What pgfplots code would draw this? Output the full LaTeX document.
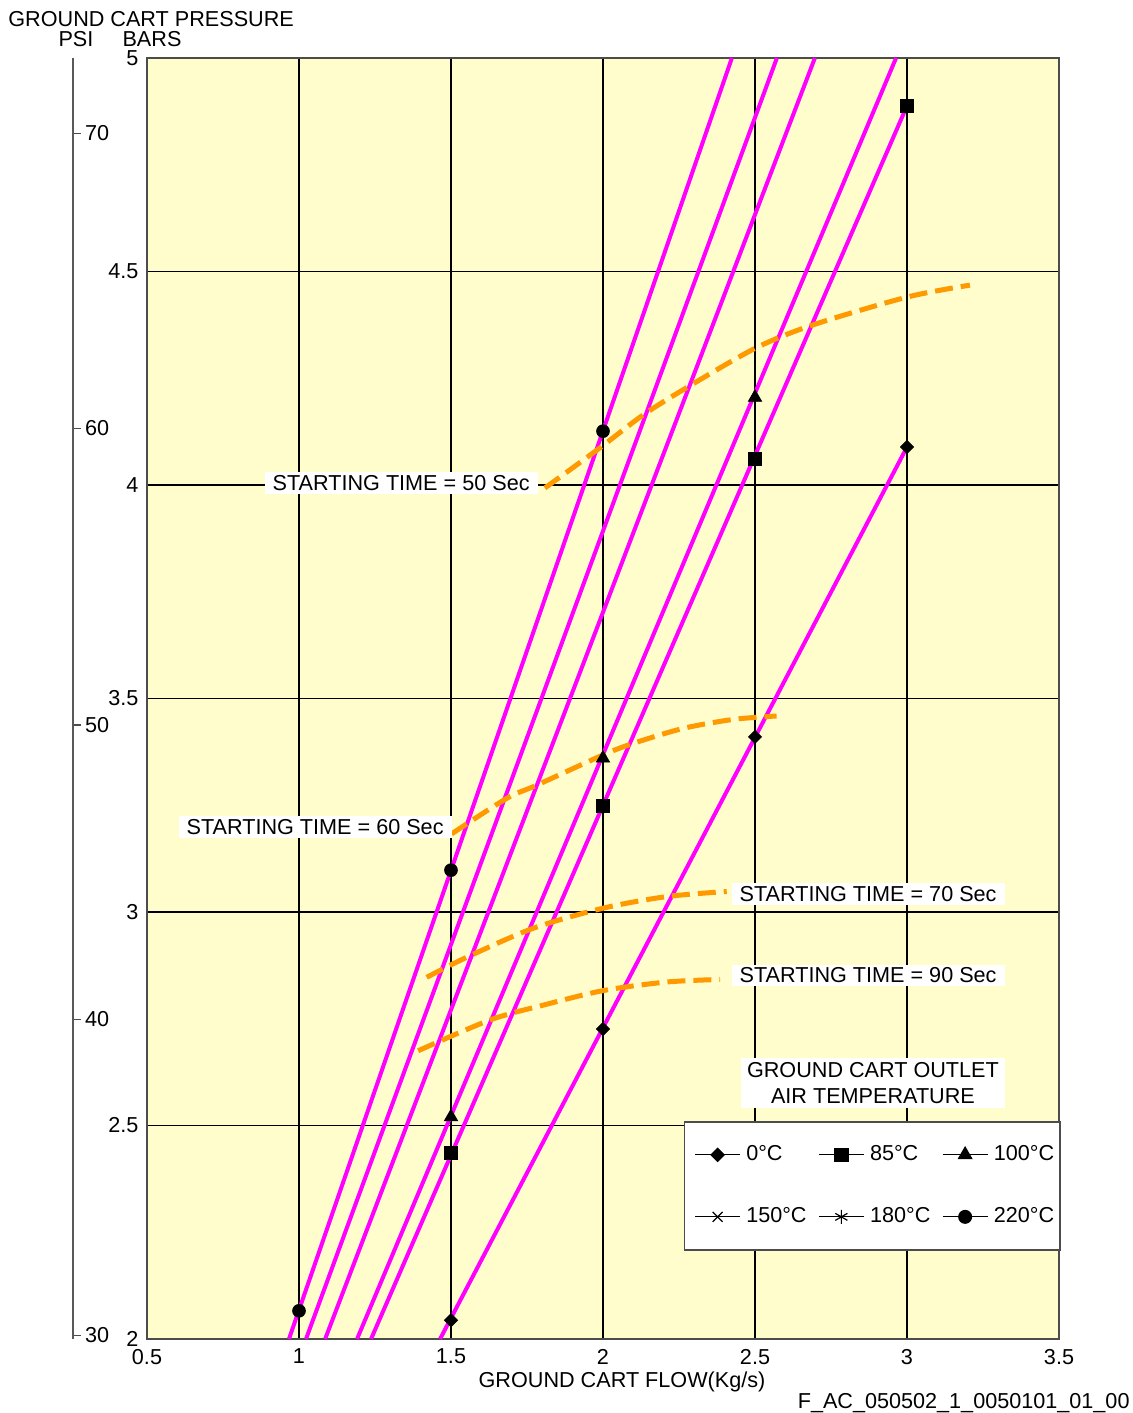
\documentclass[border=0pt]{standalone}
\usepackage{fontspec}
\setmainfont{Liberation Sans}
\usepackage{pgfplots}
\pgfplotsset{compat=1.18}
\definecolor{bgy}{HTML}{FFFDCC}
\definecolor{mag}{HTML}{FF00FF}
\definecolor{orn}{HTML}{FF9900}
\newcommand{\tf}{\fontsize{10.85}{13}\selectfont}
\begin{document}
\begin{tikzpicture}[font=\tf]
\begin{axis}[name=ax, scale only axis, width=456bp, height=640.5bp,
  xmin=0.5, xmax=3.5, ymin=2, ymax=5,
  xtick={0.5,1,1.5,2,2.5,3,3.5}, ytick={2,2.5,3,3.5,4,4.5,5},
  grid=major, major grid style={black, line width=0.6bp},
  major tick length=0pt,
  axis line style={black!70, line width=0.9bp},
  axis background/.style={fill=bgy},
  /pgf/number format/assume math mode=true,
  ticklabel style={font=\tf},
  xticklabel style={yshift=-1.5bp},
  yticklabel style={xshift=-0.8bp, inner ysep=0pt},
  clip=false,
  legend columns=3,
  legend cell align=left,
  legend image code/.code={\draw[mark repeat=2,mark phase=2,#1] plot coordinates {(0bp,0bp) (11.25bp,0bp) (22.5bp,0bp)};},
  legend style={at={(1,0.1702)}, anchor=north east, xshift=0.8bp, draw=black!70, line width=0.8bp, fill=white,
    font=\tf, inner xsep=5bp, inner ysep=10bp, row sep=18bp,
    /tikz/every odd column/.style={column sep=0.8bp},
    /tikz/every even column/.style={column sep=0bp}},
]
% legend images
\addlegendimage{black, line width=0.6bp, mark=square*, mark size=2.3bp, mark options={rotate=45}}
\addlegendimage{black, line width=0.6bp, mark=square*, mark size=3.3bp}
\addlegendimage{black, line width=0.6bp, mark=triangle*, mark size=3.8bp}
\addlegendimage{black, line width=0.6bp, mark=x, mark size=3.5bp}
\addlegendimage{black, line width=0.6bp, mark=asterisk, mark size=3.5bp}
\addlegendimage{black, line width=0.6bp, mark=*, mark size=3.2bp}
\legend{\makebox[34bp][l]{0°C}, \makebox[34bp][l]{85°C}, \makebox[26bp][l]{100°C},
        \makebox[34bp][l]{150°C}, \makebox[34bp][l]{180°C}, \makebox[26bp][l]{220°C}}

% magenta temperature lines
\addplot[mag, line width=2bp, forget plot] coordinates {(0.967,2) (2.424,5)};
\addplot[mag, line width=2bp, forget plot] coordinates {(1.023,2) (2.572,5)};
\addplot[mag, line width=2bp, forget plot] coordinates {(1.086,2) (2.697,5)};
\addplot[mag, line width=2bp, forget plot] coordinates {(1.191,2) (2.964,5)};
\addplot[mag, line width=2bp, forget plot] coordinates {(1.237,2) (3.0,4.888)};
\addplot[mag, line width=2bp, forget plot] coordinates {(1.464,2) (3.0,4.089)};

% starting time curves
\addplot[orn, line width=2.5bp, dash pattern=on 9bp off 4bp, smooth, forget plot] coordinates {
 (1.809,3.993) (1.990,4.087) (2.132,4.164) (2.280,4.230) (2.503,4.321) (2.691,4.375) (3.0,4.440) (3.207,4.468)};
\addplot[orn, line width=2.5bp, dash pattern=on 9bp off 4bp, smooth, forget plot] coordinates {
 (1.502,3.183) (1.683,3.266) (1.782,3.297) (2.001,3.368) (2.100,3.395) (2.264,3.430) (2.429,3.451) (2.571,3.459)};
\addplot[orn, line width=2.5bp, dash pattern=on 9bp off 4bp, smooth, forget plot] coordinates {
 (1.420,2.847) (1.552,2.894) (1.771,2.962) (2.001,3.009) (2.209,3.036) (2.407,3.048)};
\addplot[orn, line width=2.5bp, dash pattern=on 9bp off 4bp, smooth, forget plot] coordinates {
 (1.392,2.675) (1.628,2.747) (1.804,2.782) (2.001,2.816) (2.209,2.836) (2.385,2.842)};

% markers
\addplot[only marks, black, mark=square*, mark size=2.3bp, mark options={rotate=45}, forget plot] coordinates {(1.5,2.044) (2,2.726) (2.5,3.410) (3,4.089)};
\addplot[only marks, black, mark=square*, mark size=3.3bp, forget plot] coordinates {(1.5,2.436) (2,3.248) (2.5,4.061) (3,4.888)};
\addplot[only marks, black, mark=triangle*, mark size=3.8bp, forget plot] coordinates {(1.5,2.520) (2,3.360) (2.5,4.205)};
\addplot[only marks, black, mark=*, mark size=3.2bp, forget plot] coordinates {(1,2.066) (1.5,3.098) (2,4.126)};

% labels
\node[fill=white, inner xsep=4bp, inner ysep=1.5bp] at (axis cs:1.336,4.005) {STARTING TIME = 50 Sec};
\node[fill=white, inner xsep=4bp, inner ysep=1.5bp] at (axis cs:1.053,3.199) {STARTING TIME = 60 Sec};
\node[fill=white, inner xsep=4bp, inner ysep=1.5bp] at (axis cs:2.872,3.042) {STARTING TIME = 70 Sec};
\node[fill=white, inner xsep=4bp, inner ysep=1.5bp] at (axis cs:2.872,2.852) {STARTING TIME = 90 Sec};
\node[fill=white, align=center, inner xsep=3bp, inner ysep=2bp] at (axis cs:2.888,2.5995) {GROUND CART OUTLET\\AIR TEMPERATURE};
\end{axis}

% PSI scale
\begin{axis}[at={(ax.south west)}, anchor=south west, xshift=-37bp,
  scale only axis, width=1bp, height=640.5bp,
  xmin=0, xmax=1, ymin=2, ymax=5,
  hide x axis, axis y line*=left,
  y axis line style={black!65, line width=0.9bp},
  tick align=inside, major tick length=4bp,
  tick style={black!70, line width=0.6bp},
  ytick={2.009,2.749,3.438,4.133,4.824},
  yticklabels={30,40,50,60,70},
  /pgf/number format/assume math mode=true,
  yticklabel style={font=\tf, anchor=west, xshift=2.5bp},
]
\end{axis}

\node[anchor=west, inner sep=0pt] at ([xshift=-69.5bp, yshift=19.5bp]ax.north west) {GROUND CART PRESSURE};
\node[inner sep=0pt] at ([xshift=-35.5bp, yshift=9.3bp]ax.north west) {PSI};
\node[inner sep=0pt] at ([xshift=2.5bp, yshift=9.3bp]ax.north west) {BARS};
\node at ([xshift=9.5bp, yshift=-21.5bp]ax.south) {GROUND CART FLOW(Kg/s)};
\node[anchor=east, inner sep=0pt] at ([xshift=35.5bp, yshift=-32bp]ax.south east) {F\_AC\_050502\_1\_0050101\_01\_00};

\pgfresetboundingbox
\path ([xshift=-73.5bp, yshift=-37bp]ax.south west) rectangle ([xshift=37bp, yshift=29bp]ax.north east);
\end{tikzpicture}
\end{document}
